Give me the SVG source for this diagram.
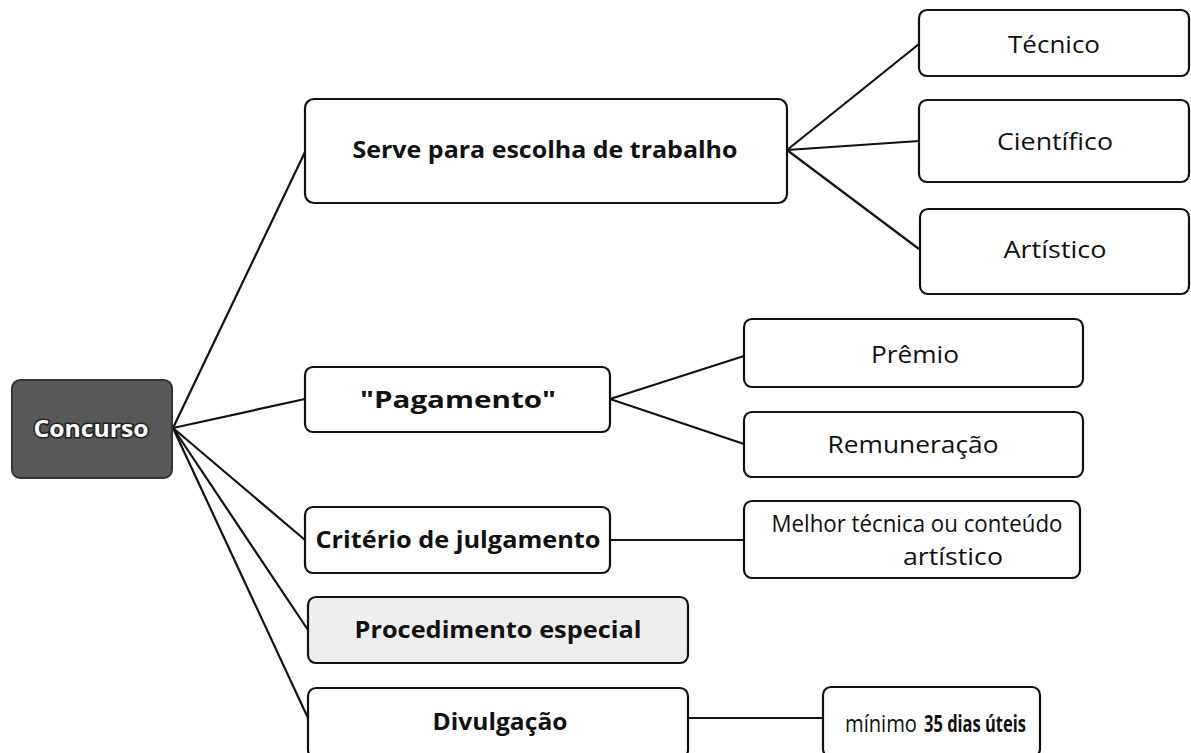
<svg xmlns="http://www.w3.org/2000/svg" width="1191" height="753" viewBox="0 0 1191 753">
<style>
.box{fill:#ffffff;stroke:#111;stroke-width:2.2}
.t{font-family:"Open Sans","Noto Sans",sans-serif;font-size:23px;fill:#111;text-anchor:middle}
.b{font-weight:bold}
.c{stroke:#111;stroke-width:2.2;fill:none}
</style>
<rect width="1191" height="753" fill="#ffffff"/>
<g id="connectors">
<line class="c" x1="173" y1="428" x2="305" y2="152"/>
<line class="c" x1="173" y1="428" x2="305" y2="399"/>
<line class="c" x1="173" y1="428" x2="305" y2="540"/>
<line class="c" x1="173" y1="428" x2="308" y2="630"/>
<line class="c" x1="173" y1="428" x2="308" y2="718"/>
<line class="c" x1="787" y1="150" x2="919" y2="44"/>
<line class="c" x1="787" y1="150" x2="919" y2="141"/>
<line class="c" x1="787" y1="150" x2="919" y2="249"/>
<line class="c" x1="610" y1="399" x2="744" y2="356"/>
<line class="c" x1="610" y1="399" x2="744" y2="444"/>
<line class="c" x1="610" y1="540" x2="744" y2="540"/>
<line class="c" x1="688" y1="718" x2="823" y2="718"/>
</g>
<g id="concurso">
<rect x="12" y="380" width="160" height="98" rx="8" fill="#585858" stroke="#333" stroke-width="2"/>
<text x="91" y="437" class="t b" style="fill:#fff;stroke:#222;stroke-width:3;paint-order:stroke" textLength="115" lengthAdjust="spacingAndGlyphs">Concurso</text>
</g>
<g id="serve">
<rect class="box" x="305" y="99" width="482" height="104" rx="9"/>
<text x="545" y="158" class="t b" textLength="385" lengthAdjust="spacingAndGlyphs">Serve para escolha de trabalho</text>
</g>
<g id="tecnico">
<rect class="box" x="919" y="10" width="270" height="66" rx="8"/>
<text x="1054" y="53" class="t" textLength="92" lengthAdjust="spacingAndGlyphs">Técnico</text>
</g>
<g id="cientifico">
<rect class="box" x="919" y="100" width="270" height="82" rx="8"/>
<text x="1055" y="150" class="t" textLength="116" lengthAdjust="spacingAndGlyphs">Científico</text>
</g>
<g id="artistico">
<rect class="box" x="920" y="209" width="269" height="85" rx="8"/>
<text x="1055" y="258" class="t" textLength="103" lengthAdjust="spacingAndGlyphs">Artístico</text>
</g>
<g id="pagamento">
<rect class="box" x="305" y="367" width="305" height="65" rx="8"/>
<text x="458" y="408" class="t b" textLength="196" lengthAdjust="spacingAndGlyphs">"Pagamento"</text>
</g>
<g id="premio">
<rect class="box" x="744" y="319" width="339" height="68" rx="8"/>
<text x="915" y="363" class="t" textLength="88" lengthAdjust="spacingAndGlyphs">Prêmio</text>
</g>
<g id="remuneracao">
<rect class="box" x="744" y="412" width="339" height="65" rx="8"/>
<text x="913" y="453" class="t" textLength="171" lengthAdjust="spacingAndGlyphs">Remuneração</text>
</g>
<g id="criterio">
<rect class="box" x="305" y="507" width="305" height="66" rx="8"/>
<text x="458" y="548" class="t b" textLength="285" lengthAdjust="spacingAndGlyphs">Critério de julgamento</text>
</g>
<g id="melhor">
<rect class="box" x="744" y="501" width="336" height="77" rx="8"/>
<text x="917" y="532" class="t" textLength="291" lengthAdjust="spacingAndGlyphs">Melhor técnica ou conteúdo</text>
<text x="953" y="565" class="t" textLength="100" lengthAdjust="spacingAndGlyphs">artístico</text>
</g>
<g id="procedimento">
<rect class="box" x="308" y="597" width="380" height="66" rx="8" style="fill:#eeeeee"/>
<text x="498" y="638" class="t b" textLength="287" lengthAdjust="spacingAndGlyphs">Procedimento especial</text>
</g>
<g id="divulgacao">
<rect class="box" x="308" y="688" width="380" height="70" rx="8"/>
<text x="500" y="730" class="t b" textLength="135" lengthAdjust="spacingAndGlyphs">Divulgação</text>
</g>
<g id="minimo">
<rect class="box" x="823" y="687" width="217" height="70" rx="8"/>
<text x="845" y="732" class="t" style="text-anchor:start" textLength="72" lengthAdjust="spacingAndGlyphs">mínimo</text>
<text x="924" y="732" class="t b" style="text-anchor:start" textLength="102" lengthAdjust="spacingAndGlyphs">35 dias úteis</text>
</g>
</svg>
